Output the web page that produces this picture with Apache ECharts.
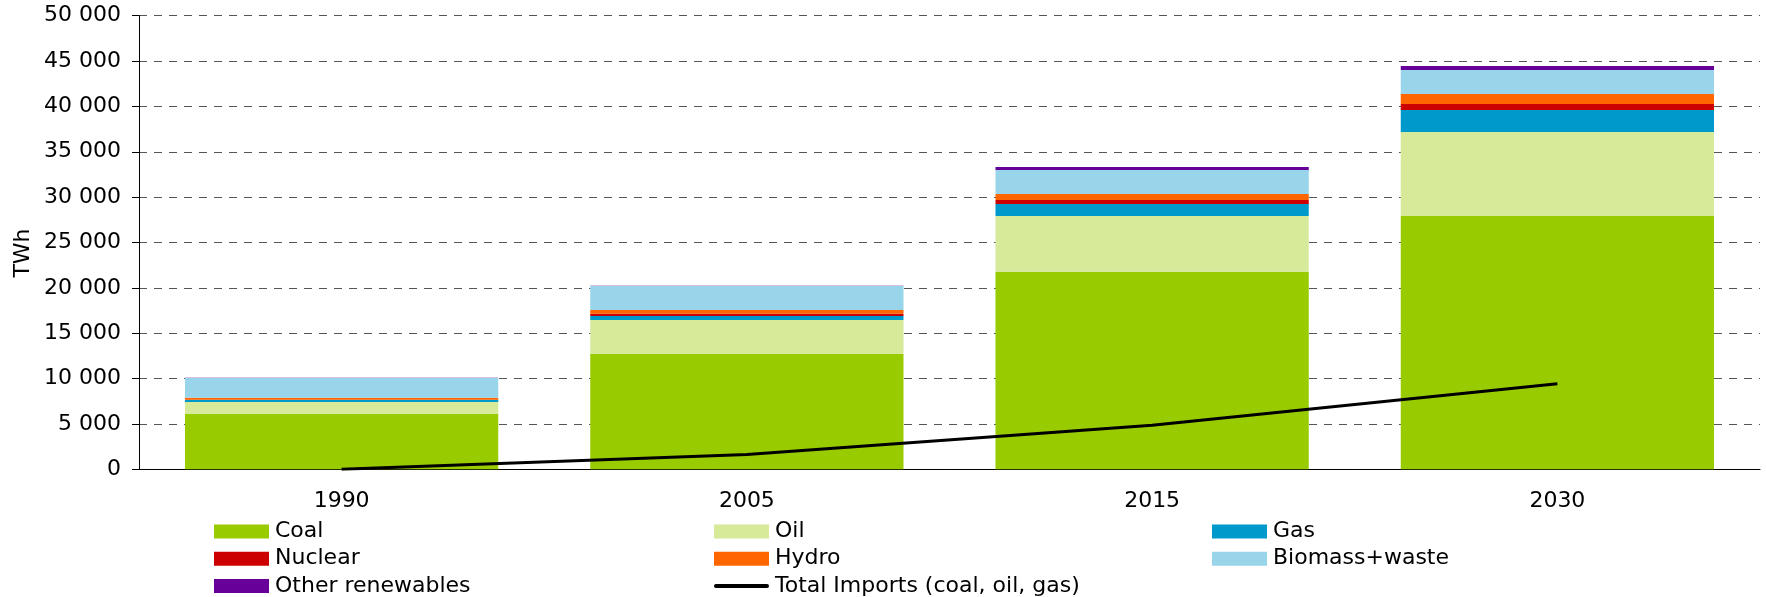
<!DOCTYPE html>
<html>
<head>
<meta charset="utf-8">
<script src="https://cdn.jsdelivr.net/npm/echarts@6/dist/echarts.min.js"></script>
<style>
html,body{margin:0;padding:0;background:#fff;}
#chart{width:1766px;height:597px;}
</style>
</head>
<body>
<div id="chart"></div>
<script>
var categories = ['1990', '2005', '2015', '2030'];
var coal    = [6100, 12710, 21770, 27930];
var oil     = [1320, 3750, 6160, 9250];
var gas     = [220, 440, 1320, 2430];
var nuclear = [30, 250, 440, 660];
var hydro   = [220, 410, 660, 1100];
var biomass = [2170, 2640, 2640, 2645];
var otherRen = [20, 20, 330, 440];
var imports = [0, 1620, 4850, 9440];

var FONT = 'DejaVu Sans';
var FS = 22;
var chart = echarts.init(document.getElementById('chart'), null, {renderer: 'canvas'});

function barSeries(name, data, color) {
  return {
    name: name, type: 'bar', stack: 'total', data: data,
    barCategoryGap: '22.7%',
    itemStyle: {color: color},
    emphasis: {disabled: true}
  };
}

var legendText = {fontFamily: FONT, fontSize: FS, color: '#000', padding: [0, 0, 0, 1]};
function legendCol(left, names) {
  return {
    orient: 'vertical', left: left, top: 520.5, height: 90, width: 450,
    itemWidth: 55, itemHeight: 14, itemGap: 5.2, padding: 0,
    icon: 'rect',
    textStyle: legendText,
    data: names, selectedMode: false
  };
}

chart.setOption({
  animation: false,
  textStyle: {fontFamily: FONT},
  grid: {left: 139, right: 6, top: 15.7, bottom: 597 - 469.3, containLabel: false},
  graphic: [{
    type: 'text', rotation: Math.PI / 2,
    x: 23, y: 253,
    style: {text: 'TWh', font: FS + 'px "DejaVu Sans"', fill: '#000', align: 'center', verticalAlign: 'middle'}
  }],
  legend: [
    legendCol(214, ['Coal', 'Nuclear', 'Other renewables']),
    legendCol(714, ['Oil', 'Hydro', {name: 'Total Imports (coal, oil, gas)', icon: 'path://M2,0 L53,0 A2,2 0 0 1 53,4 L2,4 A2,2 0 0 1 2,0 Z'}]),
    legendCol(1212, ['Gas', 'Biomass+waste'])
  ],
  xAxis: {
    type: 'category', data: categories,
    axisLine: {lineStyle: {color: '#000', width: 1}},
    axisTick: {show: false},
    axisLabel: {fontFamily: FONT, fontSize: FS, color: '#000', margin: 21}
  },
  yAxis: {
    type: 'value', min: 0, max: 50000, interval: 5000,
    axisLine: {show: true, lineStyle: {color: '#000', width: 1}},
    axisTick: {show: true, length: 7, lineStyle: {color: '#000'}},
    axisLabel: {
      fontFamily: FONT, fontSize: FS, color: '#000', margin: 18,
      formatter: function (v) { return String(v).replace(/\B(?=(\d{3})+(?!\d))/g, ' '); }
    },
    splitLine: {show: true, lineStyle: {color: '#555', width: 1, type: [8, 7]}}
  },
  series: [
    barSeries('Coal', coal, '#99CC00'),
    barSeries('Oil', oil, '#D6EA9A'),
    barSeries('Gas', gas, '#0099CC'),
    barSeries('Nuclear', nuclear, '#CC0000'),
    barSeries('Hydro', hydro, '#FF6600'),
    barSeries('Biomass+waste', biomass, '#99D5EA'),
    barSeries('Other renewables', otherRen, '#660099'),
    {
      name: 'Total Imports (coal, oil, gas)', type: 'line', data: imports,
      symbol: 'none', z: 10,
      lineStyle: {color: '#000', width: 3},
      itemStyle: {color: '#000'},
      emphasis: {disabled: true}
    }
  ]
});
</script>
</body>
</html>
